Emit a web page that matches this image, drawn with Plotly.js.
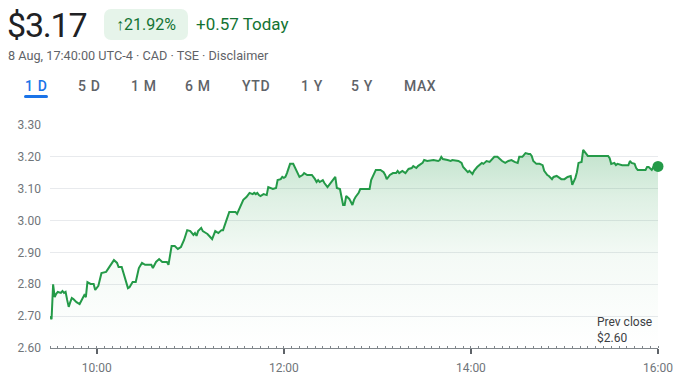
<!DOCTYPE html>
<html>
<head>
<meta charset="utf-8">
<script src="https://cdn.plot.ly/plotly-3.0.1.min.js"></script>
<style>
  html, body { margin:0; padding:0; background:#fff; }
  #wrap { position:relative; width:680px; height:381px; overflow:hidden; font-family: Roboto, "Noto Sans", Arial, sans-serif; }
  #chart { position:absolute; left:0; top:0; width:680px; height:381px; }
  .hd { position:absolute; z-index:2; white-space:nowrap; pointer-events:none; }
  .price { left:7px; top:8px; font-size:34px; line-height:34px; letter-spacing:-1.2px; color:#202124; }
  .badge { left:104px; top:9px; width:84px; height:31px; border-radius:7px; background:#e6f4ea; color:#137333; font-size:16px; line-height:31px; text-align:center; }
  .chg { left:196px; top:12px; font-size:17px; line-height:24px; color:#137333; }
  .sub { left:8px; top:48px; font-size:12.7px; line-height:16px; color:#5f6368; }
  .tab { top:77px; font-size:14px; line-height:18px; color:#5f6368; font-weight:500; letter-spacing:0.6px; }
  .tab.on { color:#1a73e8; }
  .ul { left:24px; top:95px; width:24px; height:3px; border-radius:2px; background:#1a73e8; }
</style>
</head>
<body>
<div id="wrap">
  <div class="hd price">$3.17</div>
  <div class="hd badge">↑21.92%</div>
  <div class="hd chg">+0.57 Today</div>
  <div class="hd sub">8 Aug, 17:40:00 UTC-4 · CAD · TSE · Disclaimer</div>
  <div id="tabs"></div>
  <div class="hd ul"></div>
  <div id="chart"></div>
</div>
<script>
// ---- data ----
const tradeDate = '2024-08-08';
const times = ['09:30','09:31','09:32','09:33','09:34','09:35','09:37','09:38','09:39','09:40','09:41','09:42','09:43','09:44','09:45','09:47','09:49','09:51','09:52','09:53','09:54','09:56','09:58','09:59',
'10:01','10:03','10:06','10:08','10:11','10:13','10:14','10:16','10:18','10:20','10:21','10:23','10:25','10:27','10:29','10:31','10:35','10:36','10:38','10:40','10:42','10:45','10:46','10:48','10:50','10:52','10:54','10:56','10:58',
'11:00','11:02','11:03','11:04','11:05','11:07','11:08','11:10','11:11','11:14','11:15','11:16','11:18','11:20','11:21','11:23','11:25','11:27','11:29','11:30','11:31','11:33','11:34','11:36','11:38','11:40','11:41','11:42','11:43','11:44','11:45','11:47','11:49','11:50','11:52','11:53','11:55','11:56','11:58','11:59',
'12:00','12:01','12:02','12:04','12:06','12:07','12:08','12:10','12:12','12:13','12:15','12:18','12:20','12:21','12:22','12:23','12:25','12:26','12:28','12:30','12:31','12:33','12:34','12:36','12:37','12:38','12:39','12:40','12:42','12:44','12:45','12:46','12:48','12:49','12:52','12:55','12:56','12:58','12:59',
'13:02','13:04','13:05','13:06','13:08','13:10','13:12','13:13','13:14','13:16','13:18','13:20','13:22','13:23','13:25','13:26','13:29','13:30','13:32','13:36','13:39','13:40','13:41','13:42','13:45','13:47','13:48','13:52','13:54','13:55','13:58','13:59',
'14:01','14:02','14:04','14:06','14:07','14:08','14:10','14:12','14:13','14:15','14:17','14:19','14:20','14:22','14:24','14:26','14:28','14:30','14:31','14:33','14:35','14:37','14:38','14:39','14:40','14:42','14:44','14:46','14:47','14:49','14:50','14:52','14:53','14:55','14:57','14:58',
'15:00','15:02','15:04','15:05','15:07','15:08','15:09','15:11','15:12','15:14','15:15','15:28','15:29','15:30','15:32','15:33','15:34','15:37','15:41','15:42','15:43','15:45','15:46','15:47','15:52','15:53','15:54','15:56','15:57','16:00'];
const prices = [2.700,2.690,2.800,2.760,2.770,2.776,2.773,2.779,2.773,2.776,2.751,2.729,2.744,2.757,2.754,2.744,2.738,2.757,2.766,2.760,2.807,2.801,2.801,2.782,
2.795,2.835,2.839,2.854,2.876,2.867,2.854,2.854,2.823,2.788,2.791,2.807,2.807,2.851,2.867,2.861,2.861,2.851,2.870,2.879,2.870,2.870,2.861,2.920,2.920,2.911,2.917,2.939,2.970,
2.967,2.955,2.961,2.952,2.967,2.977,2.967,2.961,2.958,2.942,2.955,2.967,2.961,2.970,2.970,3.002,3.027,3.027,3.027,3.021,3.033,3.055,3.065,3.074,3.087,3.083,3.087,3.083,3.087,3.080,3.077,3.083,3.080,3.105,3.102,3.099,3.102,3.127,3.130,3.137,
3.134,3.137,3.149,3.178,3.178,3.168,3.156,3.137,3.143,3.149,3.143,3.143,3.130,3.121,3.127,3.121,3.127,3.118,3.105,3.118,3.121,3.137,3.102,3.099,3.074,3.049,3.049,3.077,3.068,3.049,3.065,3.074,3.087,3.099,3.099,3.099,3.127,3.152,3.159,
3.159,3.152,3.143,3.130,3.143,3.149,3.149,3.156,3.149,3.156,3.149,3.162,3.165,3.171,3.165,3.171,3.181,3.190,3.187,3.190,3.187,3.190,3.200,3.193,3.190,3.187,3.190,3.187,3.181,3.168,3.152,3.156,
3.146,3.156,3.168,3.178,3.181,3.178,3.187,3.184,3.190,3.200,3.200,3.190,3.187,3.181,3.187,3.190,3.184,3.181,3.200,3.200,3.212,3.209,3.209,3.203,3.187,3.178,3.178,3.174,3.156,3.143,3.140,3.130,3.137,3.140,3.134,3.130,
3.130,3.137,3.140,3.112,3.134,3.152,3.181,3.184,3.222,3.209,3.203,3.203,3.196,3.178,3.181,3.174,3.178,3.174,3.174,3.187,3.181,3.178,3.165,3.159,3.159,3.168,3.168,3.159,3.168,3.170];
const xTickLabels = ['10:00','12:00','14:00','16:00'];
const yTickLabels = ['2.60','2.70','2.80','2.90','3.00','3.10','3.20','3.30'];
const sessionStart = '09:30', sessionEnd = '16:00';
const prevClose = 2.60;
const tabLabels = ['1 D','5 D','1 M','6 M','YTD','1 Y','5 Y','MAX'];

// ---- tabs ----
const tabLeft = [25,78,131,185,242,301,351,404];
const tabsEl = document.getElementById('tabs');
tabLabels.forEach((t,i)=>{
  const s = document.createElement('div');
  s.className = 'hd tab' + (i===0?' on':'');
  s.style.left = tabLeft[i] + 'px';
  s.textContent = t;
  tabsEl.appendChild(s);
});

// ---- chart ----
const green = '#249a48';
const xs = times.map(t => tradeDate + ' ' + t);
const traceLine = {
  x: xs, y: prices, type:'scatter', mode:'lines',
  line:{color:green, width:2},
  fill:'tozeroy',
  fillgradient:{type:'vertical', start:prevClose, stop:3.23,
    colorscale:[[0,'rgba(36,154,72,0)'],[0.45,'rgba(36,154,72,0.05)'],[0.75,'rgba(36,154,72,0.15)'],[1,'rgba(36,154,72,0.29)']]},
  hoverinfo:'skip'
};
const traceEnd = {
  x:[xs[xs.length-1]], y:[prices[prices.length-1]], type:'scatter', mode:'markers',
  marker:{color:green, size:11}, hoverinfo:'skip', cliponaxis:false
};
const tickFont = {family:'Roboto, sans-serif', size:12, color:'#70757a'};
const layout = {
  width:680, height:381,
  margin:{l:50, r:22, t:125, b:33},
  paper_bgcolor:'rgba(0,0,0,0)', plot_bgcolor:'rgba(0,0,0,0)',
  showlegend:false,
  xaxis:{
    type:'date',
    range:[tradeDate+' '+sessionStart, tradeDate+' '+sessionEnd],
    tickvals: xTickLabels.map(t=>tradeDate+' '+t),
    ticktext: xTickLabels,
    showgrid:false, zeroline:false,
    showline:true, linecolor:'#80868b', linewidth:1,
    ticks:'outside', ticklen:5, tickwidth:2, tickcolor:'#5f6368',
    minor:{dtick:300000, ticks:'inside', ticklen:2, tickwidth:1, tickcolor:'#80868b', showgrid:false},
    tickfont:tickFont, ticklabelstandoff:4, fixedrange:true
  },
  yaxis:{
    range:[2.6, 3.3],
    tickvals: yTickLabels.map(Number), ticktext: yTickLabels,
    showgrid:true, gridcolor:'#e8eaed', gridwidth:1,
    zeroline:false, showline:false, ticks:'',
    tickfont:tickFont, ticklabelstandoff:8, fixedrange:true
  },
  annotations:[{
    xref:'paper', yref:'paper', x:0.896, y:0.005, xanchor:'left', yanchor:'bottom',
    text:'Prev close<br>$' + prevClose.toFixed(2), align:'left', showarrow:false,
    font:{family:'Roboto, sans-serif', size:12, color:'#3c4043'}
  }]
};
Plotly.newPlot('chart', [traceLine, traceEnd], layout, {displayModeBar:false, staticPlot:true});
</script>
</body>
</html>
